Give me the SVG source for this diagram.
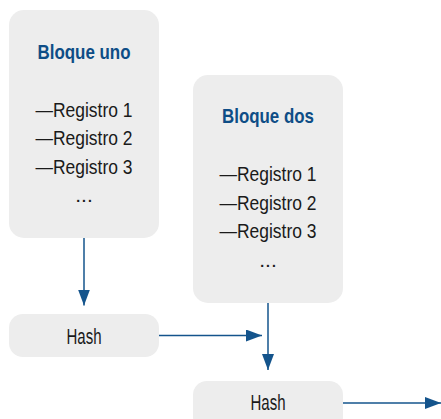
<svg xmlns="http://www.w3.org/2000/svg" width="441" height="419" viewBox="0 0 441 419">
<style>
.box{fill:#ededed;}
.t{font-family:"Liberation Sans Narrow","Liberation Sans",Arial,sans-serif;font-size:21px;fill:#1a1a1a;text-anchor:middle;}
.hs{font-family:"Liberation Sans Narrow","Liberation Sans",Arial,sans-serif;font-size:22px;fill:#1a1a1a;text-anchor:middle;}
.h{font-family:"Liberation Sans Narrow","Liberation Sans",Arial,sans-serif;font-size:21px;font-weight:bold;fill:#0e4d86;text-anchor:middle;}
.c{stroke:#14548c;stroke-width:1.5;fill:none;}
</style>
<defs>
<marker id="ah" markerUnits="userSpaceOnUse" markerWidth="16" markerHeight="12" refX="16" refY="6" orient="auto">
<path d="M0,0 L16,6 L0,12 z" fill="#14548c"/>
</marker>
</defs>
<rect width="441" height="419" fill="#ffffff"/>
<g id="bloque-uno">
<rect class="box" x="9" y="10" width="150" height="228" rx="15"/>
<text class="h" x="84" y="58.5" textLength="93" lengthAdjust="spacingAndGlyphs">Bloque uno</text>
<text class="t" x="84" y="116.5" textLength="97" lengthAdjust="spacingAndGlyphs">—Registro 1</text>
<text class="t" x="84" y="145" textLength="97" lengthAdjust="spacingAndGlyphs">—Registro 2</text>
<text class="t" x="84" y="173.5" textLength="97" lengthAdjust="spacingAndGlyphs">—Registro 3</text>
<text class="t" x="84" y="202">...</text>
</g>
<g id="bloque-dos">
<rect class="box" x="193" y="75" width="150" height="228" rx="15"/>
<text class="h" x="268" y="123" textLength="92" lengthAdjust="spacingAndGlyphs">Bloque dos</text>
<text class="t" x="268" y="181" textLength="97" lengthAdjust="spacingAndGlyphs">—Registro 1</text>
<text class="t" x="268" y="209.5" textLength="97" lengthAdjust="spacingAndGlyphs">—Registro 2</text>
<text class="t" x="268" y="238" textLength="97" lengthAdjust="spacingAndGlyphs">—Registro 3</text>
<text class="t" x="268" y="266.5">...</text>
</g>
<g id="hash-uno">
<rect class="box" x="9" y="314" width="150" height="43" rx="14"/>
<text class="hs" x="84" y="344" textLength="35" lengthAdjust="spacingAndGlyphs">Hash</text>
</g>
<g id="hash-dos">
<rect class="box" x="193" y="381" width="150" height="50" rx="14"/>
<text class="hs" x="268" y="410" textLength="35" lengthAdjust="spacingAndGlyphs">Hash</text>
</g>
<g id="connectors">
<line class="c" x1="84" y1="238" x2="84" y2="305.5" marker-end="url(#ah)"/>
<line class="c" x1="159" y1="335.5" x2="262" y2="335.5" marker-end="url(#ah)"/>
<line class="c" x1="268" y1="303" x2="268" y2="370" marker-end="url(#ah)"/>
<line class="c" x1="343" y1="403" x2="441" y2="403" marker-end="url(#ah)"/>
</g>
</svg>
